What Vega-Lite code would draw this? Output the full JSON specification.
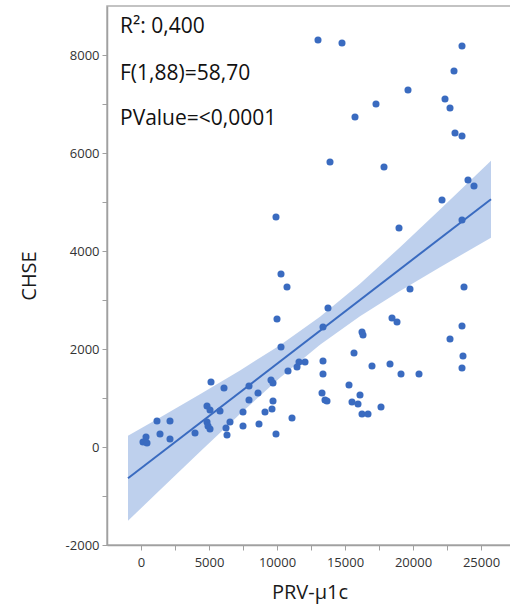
{
  "$schema": "https://vega.github.io/schema/vega-lite/v6.json",
  "width": 405,
  "height": 539,
  "autosize": "none",
  "padding": {"left": 107, "top": 6, "right": 0, "bottom": 65},
  "background": "white",
  "config": {
    "view": {"stroke": "#b0b0b0", "strokeWidth": 1.5},
    "axis": {"grid": false, "domainColor": "#a0a0a0", "tickColor": "#a0a0a0", "labelColor": "#333333", "labelFont": "Open Sans", "labelFontSize": 13, "titleFont": "Open Sans", "titleFontWeight": "normal", "titleFontSize": 20, "titleColor": "#1a1a1a", "tickSize": 5, "domainWidth": 1.5}
  },
  "datasets": {
    "points": [
      {"x": 13015, "y": 8306}, {"x": 14779, "y": 8245}, {"x": 23603, "y": 8184}, {"x": 23015, "y": 7673},
      {"x": 19632, "y": 7286}, {"x": 17279, "y": 7000}, {"x": 22353, "y": 7102}, {"x": 22721, "y": 6918},
      {"x": 15735, "y": 6735}, {"x": 23088, "y": 6408}, {"x": 23603, "y": 6347}, {"x": 13897, "y": 5816},
      {"x": 17868, "y": 5714}, {"x": 24044, "y": 5449}, {"x": 24485, "y": 5327}, {"x": 22132, "y": 5041},
      {"x": 23603, "y": 4633}, {"x": 9926, "y": 4694}, {"x": 18971, "y": 4469}, {"x": 10294, "y": 3531},
      {"x": 10735, "y": 3265}, {"x": 19779, "y": 3224}, {"x": 23750, "y": 3265}, {"x": 13750, "y": 2837},
      {"x": 10000, "y": 2612}, {"x": 18456, "y": 2633}, {"x": 18824, "y": 2551}, {"x": 13382, "y": 2449},
      {"x": 23603, "y": 2469}, {"x": 16250, "y": 2347}, {"x": 16324, "y": 2286}, {"x": 22721, "y": 2204},
      {"x": 10294, "y": 2041}, {"x": 15662, "y": 1918}, {"x": 12059, "y": 1735}, {"x": 11618, "y": 1735},
      {"x": 13382, "y": 1755}, {"x": 16985, "y": 1653}, {"x": 18309, "y": 1694}, {"x": 23676, "y": 1857},
      {"x": 23603, "y": 1612}, {"x": 10809, "y": 1551}, {"x": 11471, "y": 1633}, {"x": 13382, "y": 1490},
      {"x": 19118, "y": 1490}, {"x": 20441, "y": 1490}, {"x": 9559, "y": 1367}, {"x": 9706, "y": 1306},
      {"x": 7941, "y": 1245}, {"x": 15294, "y": 1265}, {"x": 5147, "y": 1327}, {"x": 6103, "y": 1204},
      {"x": 8603, "y": 1102}, {"x": 13309, "y": 1102}, {"x": 16103, "y": 1061}, {"x": 7941, "y": 959},
      {"x": 9706, "y": 939}, {"x": 13529, "y": 959}, {"x": 13676, "y": 939}, {"x": 15515, "y": 918},
      {"x": 15956, "y": 878}, {"x": 17647, "y": 816}, {"x": 4853, "y": 837}, {"x": 5074, "y": 755},
      {"x": 5809, "y": 735}, {"x": 7500, "y": 714}, {"x": 9118, "y": 714}, {"x": 9632, "y": 776},
      {"x": 16250, "y": 673}, {"x": 16691, "y": 673}, {"x": 11103, "y": 592}, {"x": 1176, "y": 531},
      {"x": 2132, "y": 531}, {"x": 6544, "y": 510}, {"x": 4853, "y": 510}, {"x": 4926, "y": 429},
      {"x": 7500, "y": 429}, {"x": 8676, "y": 469}, {"x": 6250, "y": 388}, {"x": 6324, "y": 245},
      {"x": 3971, "y": 286}, {"x": 1397, "y": 265}, {"x": 368, "y": 204}, {"x": 2132, "y": 163},
      {"x": 147, "y": 102}, {"x": 441, "y": 82}, {"x": 9926, "y": 265}, {"x": 5074, "y": 367}
    ],
    "band": [
      {"x": -956, "lo": -1506, "hi": 228},
      {"x": 1397, "lo": -876, "hi": 602},
      {"x": 4338, "lo": -95, "hi": 1077},
      {"x": 7279, "lo": 673, "hi": 1563},
      {"x": 10221, "lo": 1413, "hi": 2079},
      {"x": 13162, "lo": 2088, "hi": 2660},
      {"x": 16103, "lo": 2668, "hi": 3334},
      {"x": 19044, "lo": 3182, "hi": 4076},
      {"x": 21985, "lo": 3669, "hi": 4845},
      {"x": 25735, "lo": 4271, "hi": 5843}
    ],
    "fit": [
      {"x": -956, "y": -639},
      {"x": 25735, "y": 5057}
    ],
    "notes": [
      {"x": -1544, "y": 8449, "t": "R²: 0,400"},
      {"x": -1544, "y": 7490, "t": "F(1,88)=58,70"},
      {"x": -1544, "y": 6571, "t": "PValue=<0,0001"}
    ]
  },
  "encoding": {
    "x": {"field": "x", "type": "quantitative",
      "scale": {"domain": [-2500, 27279], "nice": false, "zero": false},
      "axis": {"title": "PRV-μ1c", "values": [0, 2500, 5000, 7500, 10000, 12500, 15000, 17500, 20000, 22500, 25000],
        "labelExpr": "datum.value % 5000 === 0 ? '' + datum.value : ''", "labelPadding": 6, "titlePadding": 13, "labelFlush": false}},
    "y": {"field": "y", "type": "quantitative",
      "scale": {"domain": [-2000, 9000], "nice": false, "zero": false},
      "axis": {"title": "CHSE", "values": [-2000, -1000, 0, 1000, 2000, 3000, 4000, 5000, 6000, 7000, 8000],
        "labelExpr": "datum.value % 2000 === 0 ? '' + datum.value : ''", "labelPadding": 3, "titlePadding": 26, "labelFlush": false}}
  },
  "layer": [
    {
      "data": {"name": "band"},
      "mark": {"type": "area", "color": "#b3c8ea", "opacity": 0.85},
      "encoding": {
        "x": {"field": "x", "type": "quantitative"},
        "y": {"field": "lo", "type": "quantitative"},
        "y2": {"field": "hi"}
      }
    },
    {
      "data": {"name": "fit"},
      "mark": {"type": "line", "color": "#3a6bc0", "strokeWidth": 2},
      "encoding": {
        "x": {"field": "x", "type": "quantitative"},
        "y": {"field": "y", "type": "quantitative"}
      }
    },
    {
      "data": {"name": "points"},
      "mark": {"type": "point", "filled": true, "color": "#3a6bc0", "opacity": 1, "size": 50},
      "encoding": {
        "x": {"field": "x", "type": "quantitative"},
        "y": {"field": "y", "type": "quantitative"}
      }
    },
    {
      "data": {"name": "notes"},
      "mark": {"type": "text", "align": "left", "baseline": "alphabetic", "font": "Open Sans", "fontSize": 21, "color": "#111111"},
      "encoding": {
        "x": {"field": "x", "type": "quantitative"},
        "y": {"field": "y", "type": "quantitative"},
        "text": {"field": "t"}
      }
    }
  ]
}
